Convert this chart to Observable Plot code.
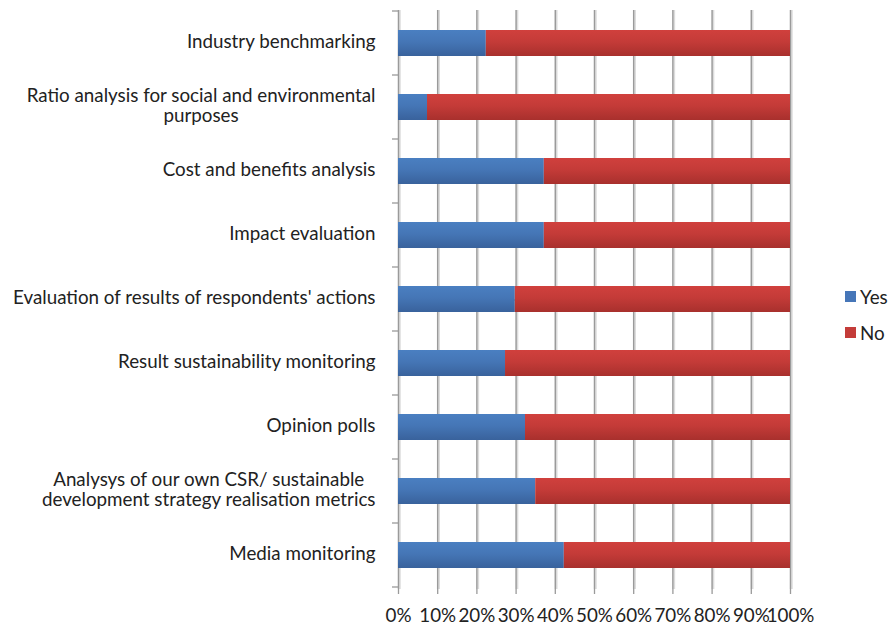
<!DOCTYPE html>
<html><head><meta charset="utf-8">
<script src="https://cdn.jsdelivr.net/npm/d3@7"></script>
<script src="https://cdn.jsdelivr.net/npm/@observablehq/plot@0.6"></script>
<style>
body{margin:0;background:#fff;}
#wrap{position:relative;width:894px;height:626px;font-family:Lato,"Liberation Sans",sans-serif;}
#legend{position:absolute;left:845px;top:285px;font-size:18.8px;color:#222;}
#legend div{display:flex;align-items:center;height:22px;margin-bottom:14.5px;}
#legend span.sw{display:inline-block;width:11px;height:11px;margin-right:4px;}
</style>
</head><body>
<div id="wrap"><div id="legend"></div></div>
<script>
const categories = [
  "Industry benchmarking",
  "Ratio analysis for social and environmental\npurposes",
  "Cost and benefits analysis",
  "Impact evaluation",
  "Evaluation of results of respondents' actions",
  "Result sustainability monitoring",
  "Opinion polls",
  "Analysys of our own CSR/ sustainable\ndevelopment strategy realisation metrics",
  "Media monitoring"
];
const yesValues = [22.4, 7.4, 37.2, 37.2, 29.8, 27.3, 32.4, 35.0, 42.3];
const noValues  = [77.6, 92.6, 62.8, 62.8, 70.2, 72.7, 67.6, 65.0, 57.7];
const seriesNames = ["Yes", "No"];
const seriesColors = ["#4676b8", "#c43c39"];
const xTicks = [0, 10, 20, 30, 40, 50, 60, 70, 80, 90, 100];

const rows = [];
categories.forEach((c, i) => {
  rows.push({category: c, answer: "Yes", value: yesValues[i]});
  rows.push({category: c, answer: "No", value: noValues[i]});
});

const gridColor = "#9a9a9a";

function categoryTicks(index, scales, values, dims) {
  const y = scales.y, x = scales.x;
  const step = y.step(), bw = y.bandwidth();
  const half = (step - bw) / 2;
  const g = d3.create("svg:g").attr("stroke", gridColor).attr("stroke-width", 1.3);
  const x0 = x(0);
  const dom = y.domain();
  const pos = dom.map(d => y(d) - half);
  pos.push(y(dom[dom.length - 1]) + bw + half);
  for (const p of pos) {
    g.append("line").attr("x1", x0 - 6).attr("x2", x0).attr("y1", p).attr("y2", p);
  }
  return g.node();
}

const chart = Plot.plot({
  width: 894,
  height: 626,
  marginLeft: 398,
  marginRight: 104,
  marginTop: 10,
  marginBottom: 37,
  style: {fontFamily: "Lato, 'Liberation Sans', sans-serif", fontSize: "18.8px", color: "#222", background: "#fff"},
  x: {domain: [0, 100], label: null},
  y: {domain: categories, paddingInner: 0.59, paddingOuter: 0.295, label: null},
  color: {domain: seriesNames, range: seriesColors},
  marks: [
    Plot.ruleX(xTicks, {x: d => d, stroke: "#dcdcdc", strokeWidth: 1.5, dx: 1.5}),
    Plot.ruleX(xTicks, {x: d => d, stroke: gridColor, strokeWidth: 1.5}),
    Plot.ruleY([0], {y: null, frameAnchor: "bottom", stroke: gridColor, strokeWidth: 1.3}),
    Plot.barX(rows, Plot.stackX({
      y: "category", x: "value", z: "answer",
      fill: d => d.answer === "Yes" ? "url(#gYes)" : "url(#gNo)"
    })),
    categoryTicks,
    Plot.axisX({ticks: xTicks, tickFormat: d => d + "%", tickSize: 5, tickPadding: 14, stroke: gridColor, strokeWidth: 1.3, fontSize: 18.8, fill: "#222"}),
    Plot.axisY({tickSize: 0, tickPadding: 23, lineHeight: 1.06, fontSize: 18.8, fill: "#222", dy: -2})
  ]
});

// gradients for the bar fills
const svg = d3.select(chart);
const defs = svg.insert("defs", ":first-child");
const grads = [["gYes", "#4a7fc1", "#39629c"], ["gNo", "#d0403d", "#a8302d"]];
for (const [id, c1, c2] of grads) {
  const lg = defs.append("linearGradient").attr("id", id).attr("x1", 0).attr("y1", 0).attr("x2", 0).attr("y2", 1);
  lg.append("stop").attr("offset", "0%").attr("stop-color", c1);
  lg.append("stop").attr("offset", "45%").attr("stop-color", d3.interpolateRgb(c1, c2)(0.3));
  lg.append("stop").attr("offset", "100%").attr("stop-color", c2);
}

document.getElementById("wrap").prepend(chart);

// center wrapped category labels line by line (right-aligned block)
svg.selectAll("[aria-label='y-axis tick label'] text").each(function() {
  const spans = this.querySelectorAll("tspan");
  if (spans.length < 2) return;
  let w = 0;
  spans.forEach(s => { w = Math.max(w, s.getComputedTextLength()); });
  this.setAttribute("text-anchor", "middle");
  spans.forEach(s => s.setAttribute("x", -w / 2));
});

const legend = document.getElementById("legend");
seriesNames.forEach((n, i) => {
  const d = document.createElement("div");
  d.innerHTML = `<span class="sw" style="background:${seriesColors[i]}"></span>${n}`;
  legend.appendChild(d);
});
</script>
</body></html>
